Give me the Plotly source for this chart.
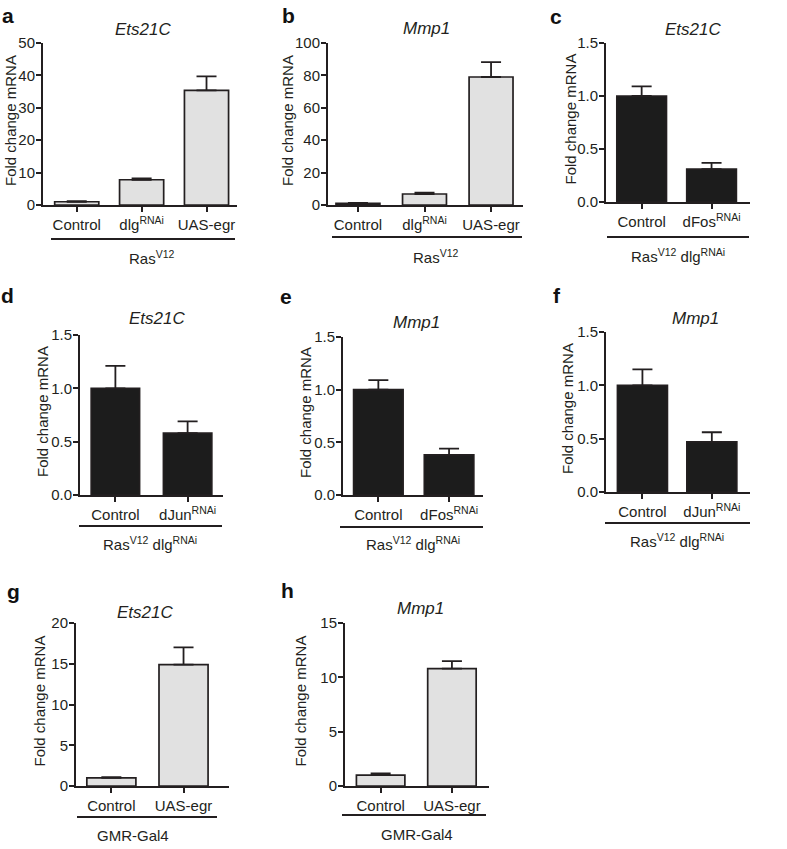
import plotly.graph_objects as go

W, H = 787, 849
INK = "#231f20"
LIGHT = "#e1e1e1"
DARK = "#1c1c1c"

# ---------------- data ----------------
a_labels = ["Control", "dlg<sup>RNAi</sup>", "UAS-egr"]
a_values = [1.0, 7.8, 35.4]
a_errors = [0.2, 0.4, 4.3]

b_labels = ["Control", "dlg<sup>RNAi</sup>", "UAS-egr"]
b_values = [1.0, 6.8, 79.0]
b_errors = [0.3, 0.8, 9.2]

c_labels = ["Control", "dFos<sup>RNAi</sup>"]
c_values = [1.0, 0.31]
c_errors = [0.09, 0.06]

d_labels = ["Control", "dJun<sup>RNAi</sup>"]
d_values = [1.0, 0.58]
d_errors = [0.21, 0.11]

e_labels = ["Control", "dFos<sup>RNAi</sup>"]
e_values = [1.0, 0.38]
e_errors = [0.09, 0.06]

f_labels = ["Control", "dJun<sup>RNAi</sup>"]
f_values = [1.0, 0.47]
f_errors = [0.15, 0.09]

g_labels = ["Control", "UAS-egr"]
g_values = [1.0, 14.9]
g_errors = [0.1, 2.1]

h_labels = ["Control", "UAS-egr"]
h_values = [1.0, 10.8]
h_errors = [0.15, 0.7]

gene_titles = ["Ets21C", "Mmp1", "Ets21C", "Ets21C", "Mmp1", "Mmp1", "Ets21C", "Mmp1"]
panel_letters = ["a", "b", "c", "d", "e", "f", "g", "h"]
group_labels = ["Ras<sup>V12</sup>", "Ras<sup>V12</sup>",
                "Ras<sup>V12</sup> dlg<sup>RNAi</sup>", "Ras<sup>V12</sup> dlg<sup>RNAi</sup>",
                "Ras<sup>V12</sup> dlg<sup>RNAi</sup>", "Ras<sup>V12</sup> dlg<sup>RNAi</sup>",
                "GMR-Gal4", "GMR-Gal4"]
y_title = "Fold change mRNA"

# ---------------- layout (pixel boxes) ----------------
panels = [
    dict(lab=a_labels, val=a_values, err=a_errors, fill=LIGHT, box=(43, 237, 43, 205), xr=(-0.52, 2.47),
         ymax=50, dtick=10, fmt="d", bw=0.68, line=(51, 235, 239), glab=(152, 258), title=(143, 29),
         ytit=10, letter=(8, 15)),
    dict(lab=b_labels, val=b_values, err=b_errors, fill=LIGHT, box=(328, 523, 43, 205), xr=(-0.45, 2.48),
         ymax=100, dtick=20, fmt="d", bw=0.66, line=(332, 522, 237), glab=(436, 257), title=(427, 28),
         ytit=287, letter=(288, 15)),
    dict(lab=c_labels, val=c_values, err=c_errors, fill=DARK, box=(606, 750, 43, 202), xr=(-0.51, 1.55),
         ymax=1.5, dtick=0.5, fmt=".1f", bw=0.71, line=(607, 749, 237), glab=(678, 255), title=(693, 29),
         ytit=570, letter=(556, 16)),
    dict(lab=d_labels, val=d_values, err=d_errors, fill=DARK, box=(80, 223, 335, 495), xr=(-0.49, 1.49),
         ymax=1.5, dtick=0.5, fmt=".1f", bw=0.67, line=(79, 222, 526), glab=(150, 543), title=(157, 318),
         ytit=42, letter=(7, 295)),
    dict(lab=e_labels, val=e_values, err=e_errors, fill=DARK, box=(343, 483, 337, 495), xr=(-0.50, 1.48),
         ymax=1.5, dtick=0.5, fmt=".1f", bw=0.70, line=(340, 483, 527), glab=(413, 543), title=(416, 322),
         ytit=305, letter=(286, 296)),
    dict(lab=f_labels, val=f_values, err=f_errors, fill=DARK, box=(606, 750, 332, 492), xr=(-0.525, 1.55),
         ymax=1.5, dtick=0.5, fmt=".1f", bw=0.72, line=(605, 750, 523), glab=(677, 540), title=(695, 318),
         ytit=567, letter=(557, 295)),
    dict(lab=g_labels, val=g_values, err=g_errors, fill=LIGHT, box=(76, 229, 623, 786), xr=(-0.49, 1.63),
         ymax=20, dtick=5, fmt="d", bw=0.68, line=(77, 217, 817), glab=(133, 835), title=(145, 612),
         ytit=39, letter=(13, 591)),
    dict(lab=h_labels, val=h_values, err=h_errors, fill=LIGHT, box=(345, 489, 623, 786), xr=(-0.50, 1.52),
         ymax=15, dtick=5, fmt="d", bw=0.68, line=(342, 486, 815), glab=(417, 834), title=(420, 608),
         ytit=300, letter=(287, 590)),
]

FONT = "Liberation Sans, Arial, sans-serif"


def px(x):
    return x / W


def py(y):
    return 1 - y / H


fig = go.Figure()
layout = dict(
    template="none",
    width=W, height=H, margin=dict(l=0, r=0, t=0, b=0, pad=0, autoexpand=False),
    paper_bgcolor="white", plot_bgcolor="white",
    font=dict(family=FONT, size=15, color=INK),
    showlegend=False, bargap=0.3,
)
shapes, annotations = [], []

for i, p in enumerate(panels, start=1):
    sfx = "" if i == 1 else str(i)
    x0, x1, y0, y1 = p["box"]
    fig.add_trace(go.Bar(
        x=p["lab"], y=p["val"], width=p["bw"],
        marker=dict(color=p["fill"], line=dict(color=INK, width=1.7)),
        error_y=dict(type="data", symmetric=False, array=p["err"], arrayminus=[0] * len(p["err"]),
                     color=INK, thickness=1.8, width=10),
        xaxis="x" + sfx, yaxis="y" + sfx, hoverinfo="skip",
    ))
    layout["xaxis" + sfx] = dict(
        domain=[px(x0), px(x1)], anchor="y" + sfx, range=list(p["xr"]), automargin=False,
        showline=True, linecolor=INK, linewidth=2, ticks="outside", ticklen=5, tickwidth=1.6,
        tickcolor=INK, showgrid=False, zeroline=False, tickfont=dict(size=15, color=INK),
        fixedrange=True,
    )
    layout["yaxis" + sfx] = dict(
        domain=[py(y1), py(y0)], anchor="x" + sfx, range=[0, p["ymax"]], dtick=p["dtick"],
        tickformat=p["fmt"], showline=True, linecolor=INK, linewidth=2, ticks="outside",
        ticklen=5, tickwidth=1.6, tickcolor=INK, showgrid=False, zeroline=False, automargin=False,
        ticklabelstandoff=-2,
        tickfont=dict(size=15, color=INK), fixedrange=True,
    )
    lx0, lx1, ly = p["line"]
    shapes.append(dict(type="line", xref="paper", yref="paper", x0=px(lx0), x1=px(lx1),
                       y0=py(ly), y1=py(ly), line=dict(color=INK, width=2)))
    gx, gy = p["glab"]
    annotations.append(dict(text=group_labels[i - 1], xref="paper", yref="paper", x=px(gx), y=py(gy),
                            xanchor="center", yanchor="middle", showarrow=False,
                            font=dict(size=15, color=INK)))
    tx, ty = p["title"]
    annotations.append(dict(text="<i>" + gene_titles[i - 1] + "</i>", xref="paper", yref="paper",
                            x=px(tx), y=py(ty), xanchor="center", yanchor="middle", showarrow=False,
                            font=dict(size=17, color=INK)))
    annotations.append(dict(text=y_title, xref="paper", yref="paper", x=px(p["ytit"]),
                            y=py((y0 + y1) / 2 - 3), xanchor="center", yanchor="middle",
                            textangle=-90, showarrow=False, font=dict(size=15, color=INK)))
    lx, ly2 = p["letter"]
    annotations.append(dict(text="<b>" + panel_letters[i - 1] + "</b>", xref="paper", yref="paper",
                            x=px(lx), y=py(ly2), xanchor="center", yanchor="middle", showarrow=False,
                            font=dict(size=21, color="#111111")))

layout["shapes"] = shapes
layout["annotations"] = annotations
fig.update_layout(**layout)
fig.write_html("out.html", config={"displayModeBar": False},
               post_script="document.body.style.margin='0';")
